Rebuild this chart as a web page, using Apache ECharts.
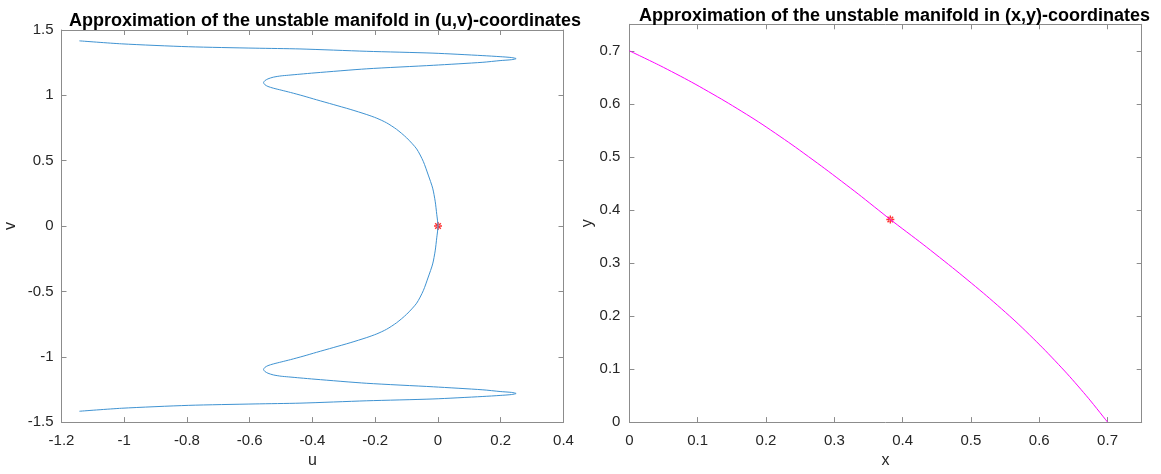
<!DOCTYPE html>
<html>
<head>
<meta charset="utf-8">
<script src="https://cdn.jsdelivr.net/npm/echarts@6/dist/echarts.min.js"></script>
<style>
html,body{margin:0;padding:0;background:#fff;}
#chart{width:1161px;height:474px;}
</style>
</head>
<body>
<div id="chart"></div>
<script>
// ---- data ----
const leftTitle = 'Approximation of the unstable manifold in (u,v)-coordinates';
const rightTitle = 'Approximation of the unstable manifold in (x,y)-coordinates';

// unstable manifold in (u,v): [u, v] pairs along the curve
const uvCurve = [
  [-1.143, 1.417], [-1.008, 1.394], [-0.796, 1.372], [-0.583, 1.361], [-0.440, 1.355],
  [-0.227, 1.337], [-0.016, 1.323], [0.143, 1.304], [0.198, 1.296], [0.235, 1.289],
  [0.249, 1.281], [0.235, 1.273], [0.198, 1.266], [0.143, 1.253], [-0.015, 1.230],
  [-0.227, 1.203], [-0.392, 1.172], [-0.440, 1.162], [-0.477, 1.154], [-0.500, 1.149],
  [-0.525, 1.139], [-0.542, 1.126], [-0.552, 1.112], [-0.556, 1.097], [-0.552, 1.082],
  [-0.542, 1.068], [-0.525, 1.055], [-0.500, 1.040], [-0.470, 1.022], [-0.430, 0.996],
  [-0.387, 0.966], [-0.334, 0.930], [-0.280, 0.893], [-0.227, 0.853], [-0.195, 0.825],
  [-0.164, 0.790], [-0.132, 0.740], [-0.100, 0.675], [-0.068, 0.590], [-0.047, 0.495],
  [-0.031, 0.390], [-0.017, 0.290], [-0.009, 0.190], [-0.004, 0.090], [0.000, 0.000],
  [-0.004, -0.090], [-0.009, -0.190], [-0.017, -0.290], [-0.031, -0.390], [-0.047, -0.495],
  [-0.068, -0.590], [-0.100, -0.675], [-0.132, -0.740], [-0.164, -0.790], [-0.195, -0.825],
  [-0.227, -0.853], [-0.280, -0.893], [-0.334, -0.930], [-0.387, -0.966], [-0.430, -0.996],
  [-0.470, -1.022], [-0.500, -1.040], [-0.525, -1.055], [-0.542, -1.068], [-0.552, -1.082],
  [-0.556, -1.097], [-0.552, -1.112], [-0.542, -1.126], [-0.525, -1.139], [-0.500, -1.149],
  [-0.477, -1.154], [-0.440, -1.162], [-0.392, -1.172], [-0.227, -1.203], [-0.015, -1.230],
  [0.143, -1.253], [0.198, -1.266], [0.235, -1.273], [0.249, -1.281], [0.235, -1.289],
  [0.198, -1.296], [0.143, -1.304], [-0.016, -1.323], [-0.227, -1.337], [-0.440, -1.355],
  [-0.583, -1.361], [-0.796, -1.372], [-1.008, -1.394], [-1.143, -1.417]
];
const uvPoint = [[0, 0]];

// unstable manifold in (x,y)
const xyCurve = [
  [0.000, 0.700], [0.045, 0.672], [0.091, 0.641], [0.140, 0.605], [0.189, 0.566],
  [0.238, 0.523], [0.286, 0.478], [0.335, 0.430], [0.382, 0.382], [0.430, 0.335],
  [0.478, 0.286], [0.523, 0.238], [0.566, 0.189], [0.605, 0.140], [0.641, 0.091],
  [0.672, 0.045], [0.700, 0.000]
];
const xyPoint = [[0.382, 0.382]];

// axis ranges / ticks
const uAxis = {min: -1.2, max: 0.4, interval: 0.2};
const vAxis = {min: -1.5, max: 1.5, interval: 0.5};
const xAxisR = {min: 0, max: 0.75, interval: 0.1};
const yAxisR = {min: 0, max: 0.75, interval: 0.1};

// ---- chart ----
const lineCol = '#8c8c8c';
const txtCol = '#262626';
const font = 'Liberation Sans, Arial, Helvetica, sans-serif';
const star = 'path://M-1,-0.18L1,-0.18L1,0.18L-1,0.18Z M-0.18,-1L0.18,-1L0.18,1L-0.18,1Z M-0.83,-0.58L-0.58,-0.83L0.83,0.58L0.58,0.83Z M0.83,-0.58L0.58,-0.83L-0.83,0.58L-0.58,0.83Z';

function mkAxis(r, grid, pos, name, showLabel, nameGap, margin) {
  return {
    type: 'value', gridIndex: grid, position: pos,
    min: r.min, max: r.max, interval: r.interval,
    name: name, nameLocation: 'middle', nameGap: nameGap,
    nameTextStyle: {color: txtCol, fontSize: 16, fontFamily: font},
    axisLine: {show: true, onZero: false, lineStyle: {color: lineCol, width: 1}},
    axisTick: {show: true, inside: true, length: 5, lineStyle: {color: lineCol, width: 1}},
    axisLabel: {show: showLabel, color: txtCol, fontSize: 15, fontFamily: font, margin: margin,
                showMaxLabel: r.max === 0.75 ? false : null},
    splitLine: {show: false}
  };
}

const chart = echarts.init(document.getElementById('chart'), null, {renderer: 'canvas'});
chart.setOption({
  backgroundColor: '#ffffff',
  animation: false,
  title: [
    {text: leftTitle, left: 64, top: 7, textStyle: {fontSize: 18, fontWeight: 'bold', color: '#000', fontFamily: font}},
    {text: rightTitle, left: 634, top: 2, textStyle: {fontSize: 18, fontWeight: 'bold', color: '#000', fontFamily: font}}
  ],
  grid: [
    {left: 61.5, top: 30, width: 502, height: 396.7, show: false},
    {left: 629.4, top: 24.3, width: 512.3, height: 402.4, show: false}
  ],
  xAxis: [
    mkAxis(uAxis, 0, 'bottom', 'u', true, 29, 11),
    mkAxis(uAxis, 0, 'top', '', false, 0, 0),
    mkAxis(xAxisR, 1, 'bottom', 'x', true, 29, 11),
    mkAxis(xAxisR, 1, 'top', '', false, 0, 0)
  ],
  yAxis: [
    mkAxis(vAxis, 0, 'left', 'v', true, 43, 8),
    mkAxis(vAxis, 0, 'right', '', false, 0, 0),
    mkAxis(yAxisR, 1, 'left', 'y', true, 33, 9),
    mkAxis(yAxisR, 1, 'right', '', false, 0, 0)
  ],
  series: [
    {type: 'line', xAxisIndex: 0, yAxisIndex: 0, data: uvCurve, showSymbol: false, smooth: 0.25,
     lineStyle: {color: '#3f93d2', width: 1}, silent: true},
    {type: 'scatter', xAxisIndex: 0, yAxisIndex: 0, data: uvPoint, symbol: star, symbolSize: 8,
     itemStyle: {color: '#ff0000'}},
    {type: 'line', xAxisIndex: 2, yAxisIndex: 2, data: xyCurve, showSymbol: false, smooth: 0.25,
     lineStyle: {color: '#ff00ff', width: 1}, silent: true},
    {type: 'scatter', xAxisIndex: 2, yAxisIndex: 2, data: xyPoint, symbol: star, symbolSize: 8,
     itemStyle: {color: '#ff0000'}}
  ]
});
</script>
</body>
</html>
